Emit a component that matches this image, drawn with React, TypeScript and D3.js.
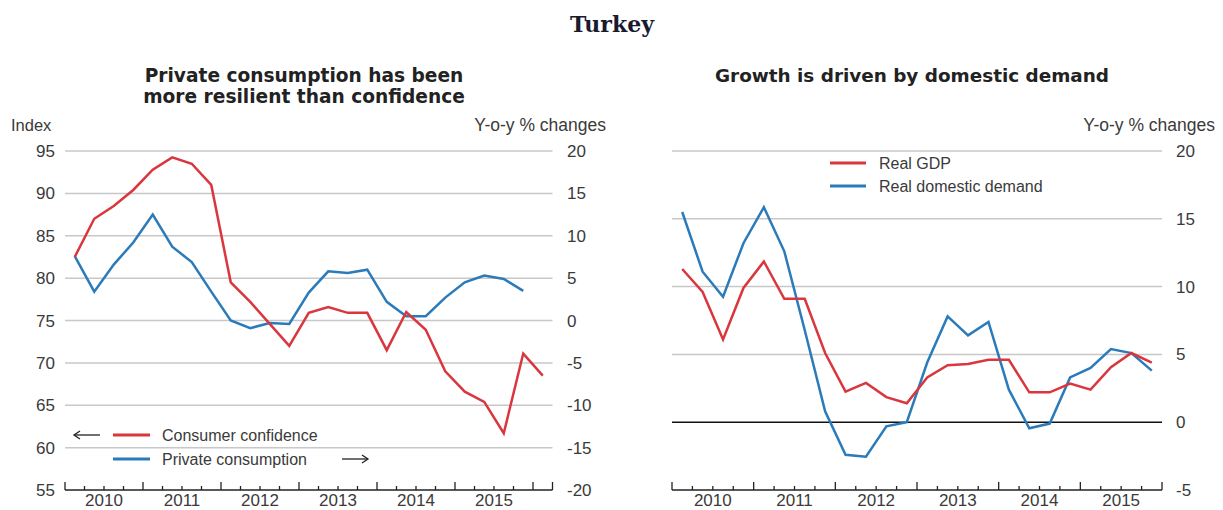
import React from "react";
import * as d3 from "d3";

const RED = "#d9363e";
const BLUE = "#2b7bba";
const GRID = "#c8c8c8";
const TEXT = "#3a3a3a";
const FONT = "'Liberation Sans', Arial, sans-serif";
const TITLE_FONT = "'DejaVu Sans', Verdana, sans-serif";

const years = ["2010", "2011", "2012", "2013", "2014", "2015"];

// left panel: quarterly, 2010Q1 onwards
const consumerConfidence = [
  82.5, 87.0, 88.5, 90.4, 92.8, 94.25, 93.5, 91.0, 79.5, 77.2, 74.6, 72.0,
  75.9, 76.6, 75.9, 75.9, 71.5, 76.0, 73.9, 69.0, 66.6, 65.4, 61.7, 71.1, 68.5,
];
const privateConsumption = [
  7.6, 3.4, 6.6, 9.2, 12.5, 8.7, 6.9, 3.4, 0.0, -0.9, -0.3, -0.4,
  3.3, 5.8, 5.6, 6.0, 2.2, 0.5, 0.5, 2.7, 4.5, 5.3, 4.9, 3.5,
];
const leftTicks = [95, 90, 85, 80, 75, 70, 65, 60, 55];
const leftRightTicks = [20, 15, 10, 5, 0, -5, -10, -15, -20];

// right panel
const realGdp = [
  11.3, 9.6, 6.1, 9.9, 11.85, 9.1, 9.1, 5.1, 2.25, 2.9, 1.85, 1.4,
  3.3, 4.2, 4.3, 4.6, 4.6, 2.2, 2.2, 2.85, 2.4, 4.05, 5.1, 4.4,
];
const realDomesticDemand = [
  15.5, 11.1, 9.25, 13.2, 15.85, 12.6, 6.8, 0.8, -2.4, -2.55, -0.3, 0.0,
  4.4, 7.8, 6.4, 7.4, 2.4, -0.45, -0.1, 3.3, 4.0, 5.4, 5.1, 3.8,
];
const rightTicks = [20, 15, 10, 5, 0, -5];

function QuarterAxis(props: {x: d3.ScaleLinear<number, number>; y: number; quarters: number}) {
  const {x, y, quarters} = props;
  const ticks = d3.range(0, quarters + 1);
  return (
    <g>
      <line x1={x(0)} x2={x(quarters)} y1={y} y2={y} stroke="#222" strokeWidth={1.5} />
      {ticks.map((q) => (
        <line key={q} x1={x(q)} x2={x(q)} y1={y} y2={y - (q % 4 === 0 || q === quarters ? 8 : 4)}
          stroke="#222" strokeWidth={1.3} />
      ))}
      {years.map((yr, i) => (
        <text key={yr} x={x(i * 4 + 2)} y={y + 16} textAnchor="middle" fontSize={17} fill={TEXT}>{yr}</text>
      ))}
    </g>
  );
}

function LeftPanel() {
  const quarters = 25;
  const x = d3.scaleLinear().domain([0, quarters]).range([65, 552.5]);
  const yL = d3.scaleLinear().domain([55, 95]).range([490, 151]);
  const yR = d3.scaleLinear().domain([-20, 20]).range([490, 151]);
  const lineL = d3.line<number>().x((_, i) => x(i + 0.5)).y((d) => yL(d));
  const lineR = d3.line<number>().x((_, i) => x(i + 0.5)).y((d) => yR(d));
  return (
    <g fontFamily={FONT}>
      <text x={304} y={82} textAnchor="middle" fontSize={18.6} fontWeight="bold" fontFamily={TITLE_FONT} fill="#222">Private consumption has been</text>
      <text x={304} y={103} textAnchor="middle" fontSize={18.6} fontWeight="bold" fontFamily={TITLE_FONT} fill="#222">more resilient than confidence</text>
      <text x={11} y={131} fontSize={16.5} fill={TEXT}>Index</text>
      <text x={606} y={131} textAnchor="end" fontSize={17.5} fill={TEXT}>Y-o-y % changes</text>
      {leftTicks.map((t) => (
        <g key={t}>
          {t !== 55 && <line x1={x(0)} x2={x(quarters)} y1={yL(t)} y2={yL(t)} stroke={GRID} strokeWidth={1.5} />}
          <text x={55} y={yL(t) + 6} textAnchor="end" fontSize={17} fill={TEXT}>{t}</text>
        </g>
      ))}
      {leftRightTicks.map((t) => (
        <text key={t} x={567} y={yR(t) + 6} fontSize={17} fill={TEXT}>{t}</text>
      ))}
      <QuarterAxis x={x} y={490} quarters={quarters} />
      <path d={lineR(privateConsumption) || ""} fill="none" stroke={BLUE} strokeWidth={2.5} />
      <path d={lineL(consumerConfidence) || ""} fill="none" stroke={RED} strokeWidth={2.5} />
      {/* legend */}
      <g>
        <line x1={74} x2={100} y1={435} y2={435} stroke="#222" strokeWidth={1.3} />
        <path d="M80,431 L74,435 L80,439" fill="none" stroke="#222" strokeWidth={1.3} />
        <line x1={113} x2={150} y1={435} y2={435} stroke={RED} strokeWidth={3} />
        <text x={162} y={441} fontSize={16} fill={TEXT}>Consumer confidence</text>
        <line x1={113} x2={150} y1={459} y2={459} stroke={BLUE} strokeWidth={3} />
        <text x={162} y={465} fontSize={16} fill={TEXT}>Private consumption</text>
        <line x1={342} x2={368} y1={459} y2={459} stroke="#222" strokeWidth={1.3} />
        <path d="M362,455 L368,459 L362,463" fill="none" stroke="#222" strokeWidth={1.3} />
      </g>
    </g>
  );
}

function RightPanel() {
  const quarters = 24;
  const x = d3.scaleLinear().domain([0, quarters]).range([672, 1162]);
  const y = d3.scaleLinear().domain([-5, 20]).range([490, 151]);
  const line = d3.line<number>().x((_, i) => x(i + 0.5)).y((d) => y(d));
  return (
    <g fontFamily={FONT}>
      <text x={912} y={82} textAnchor="middle" fontSize={18.4} fontWeight="bold" fontFamily={TITLE_FONT} fill="#222">Growth is driven by domestic demand</text>
      <text x={1215} y={131} textAnchor="end" fontSize={17.5} fill={TEXT}>Y-o-y % changes</text>
      {rightTicks.map((t) => (
        <g key={t}>
          {t !== -5 && <line x1={x(0)} x2={x(quarters)} y1={y(t)} y2={y(t)}
            stroke={t === 0 ? "#111" : GRID} strokeWidth={1.5} />}
          <text x={1176} y={y(t) + 6} fontSize={17} fill={TEXT}>{t}</text>
        </g>
      ))}
      <QuarterAxis x={x} y={490} quarters={quarters} />
      <path d={line(realDomesticDemand) || ""} fill="none" stroke={BLUE} strokeWidth={2.5} />
      <path d={line(realGdp) || ""} fill="none" stroke={RED} strokeWidth={2.5} />
      <line x1={830} x2={866} y1={163} y2={163} stroke={RED} strokeWidth={3} />
      <text x={879} y={169} fontSize={16} fill={TEXT}>Real GDP</text>
      <line x1={830} x2={866} y1={186} y2={186} stroke={BLUE} strokeWidth={3} />
      <text x={879} y={192} fontSize={16} fill={TEXT}>Real domestic demand</text>
    </g>
  );
}

export default function App() {
  return (
    <svg width={1223} height={510} style={{position: "absolute", left: 0, top: 0, background: "#fff"}}>
      <text x={612} y={32} textAnchor="middle" fontSize={22} fontWeight="bold"
        fontFamily="'DejaVu Serif', 'Liberation Serif', serif" fill="#1a1a2e">Turkey</text>
      <LeftPanel />
      <RightPanel />
    </svg>
  );
}
